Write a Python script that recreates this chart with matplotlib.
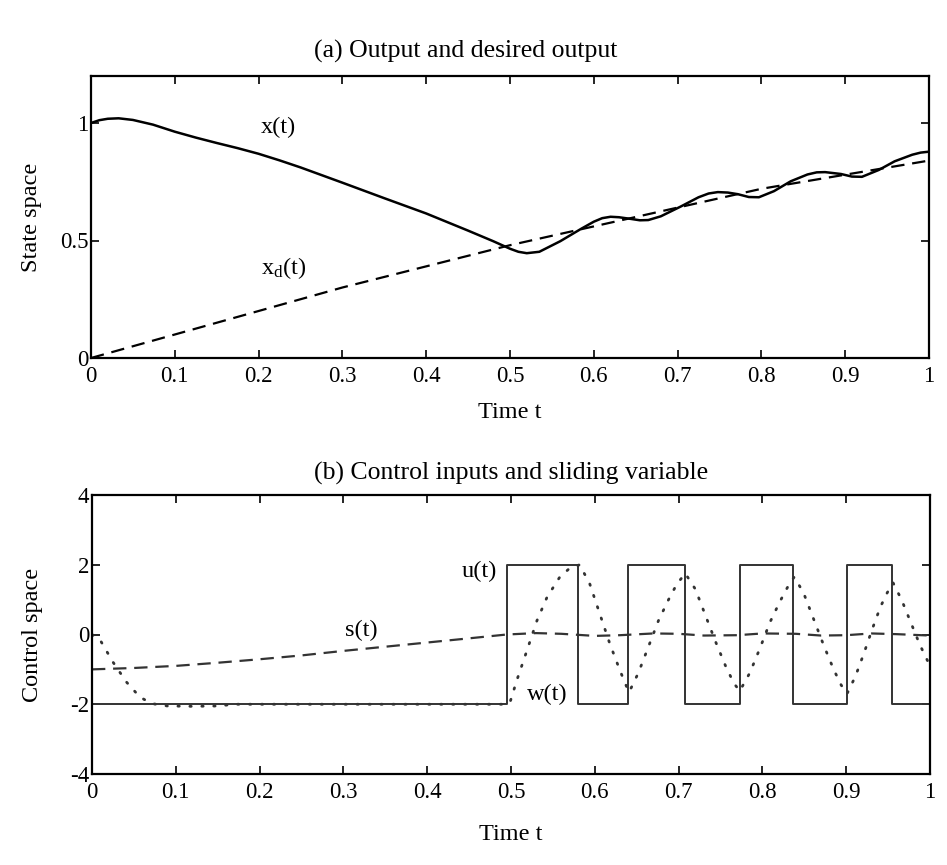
import numpy as np
import matplotlib
matplotlib.use("Agg")
import matplotlib.pyplot as plt

plt.rcParams['font.family'] = ['Liberation Serif', 'DejaVu Serif']
plt.rcParams['mathtext.fontset'] = 'custom'
plt.rcParams['mathtext.rm'] = 'Liberation Serif'
plt.rcParams['mathtext.it'] = 'Liberation Serif:italic'
plt.rcParams['axes.unicode_minus'] = False

## data
# (a) output x(t) and desired output xd(t)
t_x = [0, 0.01, 0.02, 0.033, 0.05, 0.074, 0.1, 0.125, 0.15, 0.175, 0.2, 0.225,
       0.25, 0.3, 0.35, 0.4, 0.45, 0.48, 0.5, 0.51, 0.52, 0.535, 0.56, 0.585, 0.6,
       0.61, 0.62, 0.63, 0.644, 0.655, 0.665, 0.68, 0.704, 0.725, 0.737, 0.748,
       0.76, 0.772, 0.785, 0.797, 0.815, 0.835, 0.855, 0.866, 0.876, 0.895, 0.908,
       0.92, 0.94, 0.959, 0.98, 0.99, 1.0]
x_out = [1.0, 1.012, 1.018, 1.02, 1.013, 0.993, 0.963, 0.938, 0.915, 0.893, 0.869, 0.841,
         0.811, 0.746, 0.68, 0.615, 0.542, 0.497, 0.465, 0.452, 0.446, 0.452, 0.497, 0.55, 0.58,
         0.595, 0.601, 0.599, 0.592, 0.586, 0.587, 0.603, 0.645, 0.684, 0.7, 0.706,
         0.704, 0.697, 0.685, 0.684, 0.71, 0.752, 0.781, 0.79, 0.791, 0.783, 0.772,
         0.771, 0.8, 0.837, 0.865, 0.874, 0.878]
t_d = [0, 0.1, 0.2, 0.3, 0.4, 0.5, 0.6, 0.7, 0.8, 0.9, 1.0]
x_des = [0, 0.10, 0.20, 0.30, 0.39, 0.48, 0.56, 0.64, 0.72, 0.78, 0.84]

# (b) control u(t) (switching times), sliding variable s(t), w(t)
t_u = [0, 0.495, 0.58, 0.64, 0.708, 0.773, 0.837, 0.901, 0.955, 1.0]
u_vals = [-2, 2, -2, 2, -2, 2, -2, 2, -2, -2]

t_s = [0, 0.05, 0.1, 0.15, 0.2, 0.25, 0.3, 0.35, 0.4, 0.45, 0.495, 0.53, 0.56,
       0.6, 0.63, 0.67, 0.7, 0.73, 0.77, 0.8, 0.84, 0.87, 0.9, 0.93, 0.96, 1.0]
s_vals = [-1.0, -0.96, -0.9, -0.81, -0.71, -0.6, -0.47, -0.35, -0.23, -0.11, 0.0, 0.04, 0.02,
          -0.04, -0.02, 0.03, 0.02, -0.03, -0.02, 0.03, 0.02, -0.03, -0.02, 0.03, 0.01, -0.03]

t_w = [0, 0.01, 0.025, 0.041, 0.057, 0.071, 0.09, 0.12, 0.15, 0.17, 0.2, 0.495,
       0.499, 0.507, 0.519, 0.531, 0.543, 0.558, 0.57, 0.582,
       0.594, 0.606, 0.618, 0.63, 0.638, 0.641,
       0.652, 0.664, 0.676, 0.688, 0.698, 0.708,
       0.72, 0.732, 0.744, 0.756, 0.766, 0.773,
       0.785, 0.797, 0.809, 0.821, 0.831, 0.838,
       0.849, 0.861, 0.873, 0.885, 0.894, 0.901,
       0.911, 0.921, 0.931, 0.941, 0.949, 0.956,
       0.966, 0.977, 0.988, 1.0]
w_vals = [0, -0.17, -0.79, -1.36, -1.79, -1.98, -2.05, -2.06, -2.05, -2.0, -2.0, -2.0,
          -1.93, -1.31, -0.46, 0.40, 1.07, 1.64, 1.9, 2.0,
          1.45, 0.59, -0.27, -1.03, -1.5, -1.65,
          -1.1, -0.35, 0.4, 1.0, 1.45, 1.75,
          1.3, 0.55, -0.2, -0.9, -1.4, -1.62,
          -1.1, -0.4, 0.35, 0.95, 1.4, 1.65,
          1.2, 0.45, -0.3, -1.0, -1.45, -1.7,
          -1.2, -0.55, 0.15, 0.8, 1.2, 1.48,
          1.0, 0.35, -0.3, -0.9]

x_ticks = [0, 0.1, 0.2, 0.3, 0.4, 0.5, 0.6, 0.7, 0.8, 0.9, 1]
x_ticklabels = ['0', '0.1', '0.2', '0.3', '0.4', '0.5', '0.6', '0.7', '0.8', '0.9', '1']

fig = plt.figure(figsize=(9.47, 8.65), dpi=100)
ax1 = fig.add_axes([91/947, 1-358/865, 838/947, 282/865])
ax2 = fig.add_axes([92/947, 1-774/865, 838/947, 279/865])

for ax in (ax1, ax2):
    ax.set_xlim(0, 1)
    ax.set_xticks(x_ticks)
    ax.set_xticklabels(x_ticklabels)
    ax.tick_params(direction='in', length=6, width=1.2, top=True, right=True,
                   labelsize=16.5, pad=2)
    ax.tick_params(axis='x', pad=6)
    for sp in ax.spines.values():
        sp.set_linewidth(1.6)
    ax.set_xlabel("Time t", fontsize=17.5)

# (a)
ax1.plot(t_x, x_out, color='black', lw=1.8)
ax1.plot(t_d, x_des, color='black', lw=1.6, dashes=(6, 3.5))
ax1.set_ylim(0, 1.2)
ax1.set_yticks([0, 0.5, 1])
ax1.set_yticklabels(['0', '0.5', '1'])
ax1.set_ylabel("State space", fontsize=17.5)
ax1.yaxis.set_label_coords(-0.058, 0.5)
ax1.xaxis.set_label_coords(0.5, -0.155)
ax1.set_title("(a) Output and desired output", fontsize=18.5, pad=13, x=0.4475)
ax1.text(0.203, 0.982, "x(t)", fontsize=17.5, ha='left', va='center')
ax1.text(0.203, 0.384, r"x$_{\rm d}$(t)", fontsize=17.5, ha='left', va='center')

# (b)
ax2.plot(t_u, u_vals, color='#333333', lw=1.4, drawstyle='steps-post')
ax2.plot(t_s, s_vals, color='#333333', lw=1.6, dashes=(6, 3.5))
ax2.plot(t_w, w_vals, color='#333333', lw=2.0, dashes=(0.5, 3.8), dash_capstyle='round')
ax2.set_ylim(-4, 4)
ax2.set_yticks([-4, -2, 0, 2, 4])
ax2.set_yticklabels(['-4', '-2', '0', '2', '4'])
ax2.set_ylabel("Control space", fontsize=17.5)
ax2.yaxis.set_label_coords(-0.058, 0.5)
ax2.xaxis.set_label_coords(0.5, -0.18)
ax2.set_title("(b) Control inputs and sliding variable", fontsize=18.5, pad=11)
ax2.text(0.441, 1.8, "u(t)", fontsize=17.5, ha='left', va='center')
ax2.text(0.302, 0.114, "s(t)", fontsize=17.5, ha='left', va='center')
ax2.text(0.519, -1.71, "w(t)", fontsize=17.5, ha='left', va='center')

fig.savefig("out.png", dpi=100)
